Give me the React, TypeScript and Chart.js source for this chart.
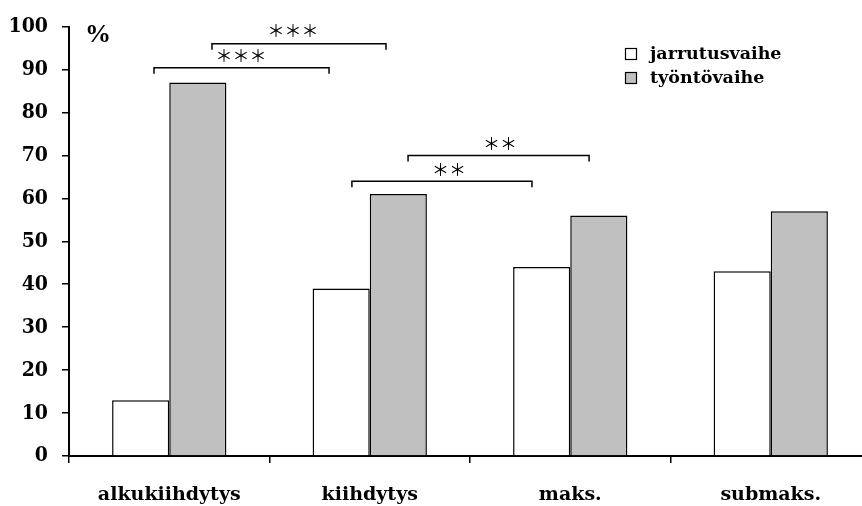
import React, { useEffect, useRef } from "react";
import { Chart, registerables } from "chart.js";

Chart.register(...registerables);

const categories = ["alkukiihdytys", "kiihdytys", "maks.", "submaks."];
const seriesNames = ["jarrutusvaihe", "työntövaihe"];
const brakingValues = [13, 39, 44, 43];
const pushValues = [87, 61, 56, 57];
const seriesColors = ["#ffffff", "#c0c0c0"];

// significance brackets (x in category index units, y in % units)
const bracketStart = [-0.076, 0.213, 0.911, 1.191];
const bracketEnd = [0.797, 1.081, 1.809, 2.094];
const bracketLevel = [90.4, 96.0, 64.0, 70.0];
const starLabels = ["＊＊＊", "＊＊＊", "＊＊", "＊＊"];
const starX = [0.358, 0.617, 1.395, 1.65];
const starY = [93.3, 99.1, 66.7, 72.8];

const unitLabel = "%";

const annotPlugin = {
  id: "annot",
  afterDraw(chart: any) {
    const { ctx, scales } = chart;
    const x = scales.x;
    const y = scales.y;
    ctx.save();
    ctx.strokeStyle = "#000";
    ctx.lineWidth = 1.5;
    for (let i = 0; i < bracketStart.length; i++) {
      const x1 = x.getPixelForValue(bracketStart[i]);
      const x2 = x.getPixelForValue(bracketEnd[i]);
      const yb = y.getPixelForValue(bracketLevel[i]);
      ctx.beginPath();
      ctx.moveTo(x1, yb + 6);
      ctx.lineTo(x1, yb);
      ctx.lineTo(x2, yb);
      ctx.lineTo(x2, yb + 6);
      ctx.stroke();
    }
    ctx.fillStyle = "#000";
    ctx.textAlign = "center";
    ctx.textBaseline = "middle";
    ctx.font = '17px "Noto Sans CJK JP"';
    for (let i = 0; i < starLabels.length; i++) {
      ctx.fillText(starLabels[i], x.getPixelForValue(starX[i]), y.getPixelForValue(starY[i]));
    }
    // unit label
    ctx.textAlign = "left";
    ctx.font = 'bold 26px "Liberation Serif", serif';
    ctx.fillText(unitLabel, chart.chartArea.left + 16, chart.chartArea.top + 9);
    // legend
    const lx = 625;
    const ly = [54, 78];
    ctx.font = 'bold 17.5px "DejaVu Serif", serif';
    chart.data.datasets.forEach((ds: any, i: number) => {
      ctx.fillStyle = ds.backgroundColor;
      ctx.fillRect(lx, ly[i] - 6, 12, 12);
      ctx.strokeStyle = "#000";
      ctx.lineWidth = 1.2;
      ctx.strokeRect(lx + 0.5, ly[i] - 5.5, 11, 11);
      ctx.fillStyle = "#000";
      ctx.textAlign = "left";
      ctx.fillText(ds.label, lx + 25, ly[i]);
    });
    ctx.restore();
  },
};

export default function App() {
  const ref = useRef<HTMLCanvasElement | null>(null);
  useEffect(() => {
    if (!ref.current) return;
    const chart = new Chart(ref.current, {
      type: "bar",
      data: {
        labels: categories,
        datasets: [
          {
            label: seriesNames[0],
            data: brakingValues,
            backgroundColor: seriesColors[0],
            borderColor: "#000",
            borderWidth: 1.5,
            categoryPercentage: 0.57,
            barPercentage: 1,
          },
          {
            label: seriesNames[1],
            data: pushValues,
            backgroundColor: seriesColors[1],
            borderColor: "#000",
            borderWidth: 1.5,
            categoryPercentage: 0.57,
            barPercentage: 1,
          },
        ],
      },
      options: {
        responsive: false,
        animation: false,
        layout: { padding: { top: 23, right: 0, left: 0, bottom: 0 } },
        plugins: { legend: { display: false }, tooltip: { enabled: false } },
        scales: {
          x: {
            grid: {
              drawOnChartArea: false,
              drawTicks: true,
              tickLength: 7,
              color: "#000",
              lineWidth: 1.5,
              offset: true,
            },
            border: { display: true, color: "#000", width: 2 },
            ticks: {
              color: "#000",
              padding: 21,
              maxRotation: 0,
              font: { family: '"DejaVu Serif", serif', weight: "bold", size: 19 },
            },
            afterFit(scale: any) {
              scale.height = 50;
            },
          },
          y: {
            min: 0,
            max: 100,
            grid: {
              drawOnChartArea: false,
              drawTicks: true,
              tickLength: 7,
              color: "#000",
              lineWidth: 1.5,
            },
            border: { display: true, color: "#000", width: 2 },
            ticks: {
              stepSize: 10,
              color: "#000",
              padding: 14,
              font: { family: '"DejaVu Serif Condensed", "Liberation Serif", serif', weight: "bold", size: 21 },
            },
            afterFit(scale: any) {
              scale.width = 69;
            },
          },
        },
      },
      plugins: [annotPlugin],
    });
    return () => chart.destroy();
  }, []);
  return (
    <div style={{ position: "fixed", left: 0, top: 0, width: 862, height: 506, overflow: "hidden", background: "#fff" }}>
      <canvas ref={ref} width={871} height={506} />
    </div>
  );
}
